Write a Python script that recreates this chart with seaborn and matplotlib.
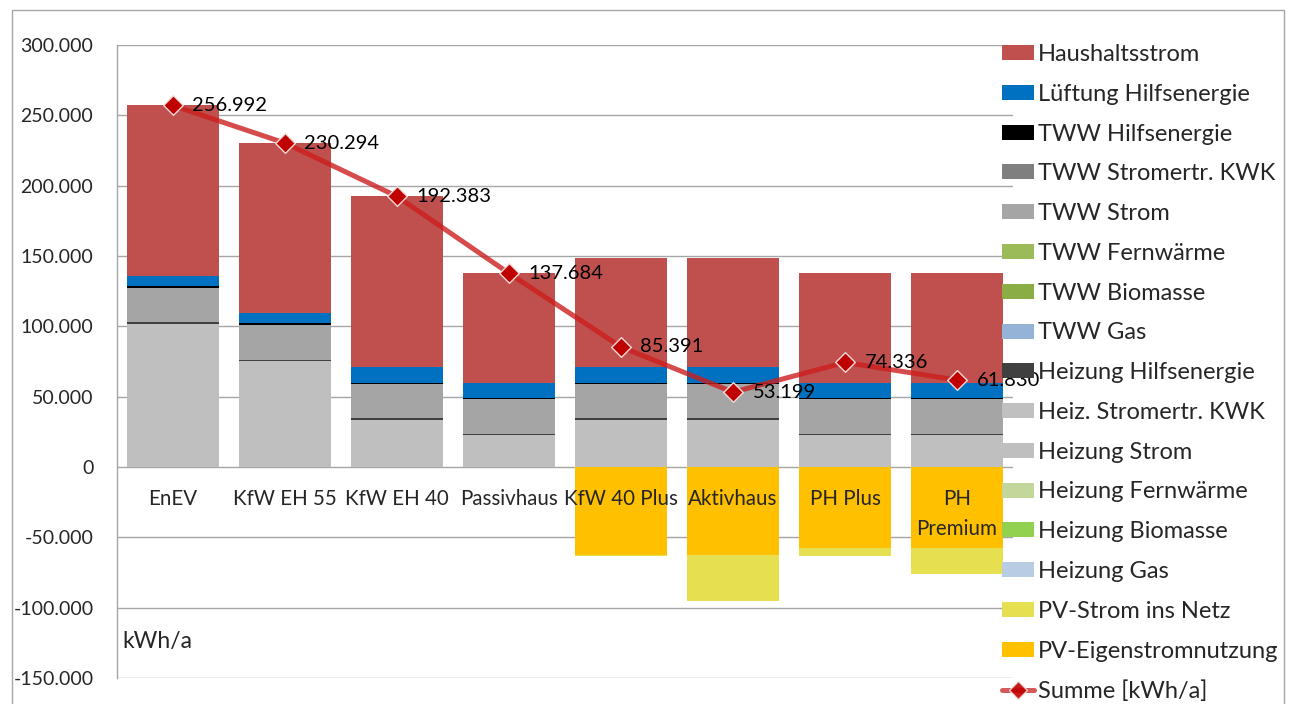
import numpy as np
import matplotlib
matplotlib.use("Agg")
import matplotlib.pyplot as plt
from matplotlib.patches import Patch, Rectangle
from matplotlib.lines import Line2D
from matplotlib.ticker import FuncFormatter, MultipleLocator
import seaborn as sns

# ---------------- data (kWh/a) ----------------
categories = ["EnEV", "KfW EH 55", "KfW EH 40", "Passivhaus", "KfW 40 Plus",
              "Aktivhaus", "PH Plus", "PH\nPremium"]

heizung_gas          = [0, 0, 0, 0, 0, 0, 0, 0]
heizung_biomasse     = [0, 0, 0, 0, 0, 0, 0, 0]
heizung_fernwaerme   = [0, 0, 0, 0, 0, 0, 0, 0]
heizung_strom        = [101900, 75100, 33400, 22500, 33400, 33400, 22500, 22500]
heiz_stromertr_kwk   = [0, 0, 0, 0, 0, 0, 0, 0]
heizung_hilfsenergie = [1200, 1000, 1200, 800, 1200, 1200, 800, 800]
tww_gas              = [0, 0, 0, 0, 0, 0, 0, 0]
tww_biomasse         = [0, 0, 0, 0, 0, 0, 0, 0]
tww_fernwaerme       = [0, 0, 0, 0, 0, 0, 0, 0]
tww_strom            = [24400, 24800, 24400, 25000, 24400, 24400, 25000, 25000]
tww_stromertr_kwk    = [0, 0, 0, 0, 0, 0, 0, 0]
tww_hilfsenergie     = [1200, 1200, 900, 600, 900, 900, 600, 600]
lueftung_hilfsenergie = [7100, 7200, 11000, 11000, 11000, 11000, 11000, 11000]
haushaltsstrom       = [121200, 121000, 121500, 77800, 77700, 77700, 77800, 77800]
pv_eigenstrom        = [0, 0, 0, 0, -62500, -62600, -57300, -57300]
pv_netz              = [0, 0, 0, 0, -700, -32800, -6000, -18600]
summe                = [256992, 230294, 192383, 137684, 85391, 53199, 74336, 61830]

# bottom -> top stacking order
pos_series = [
    ("Heizung Gas", heizung_gas, "#B8CCE4"),
    ("Heizung Biomasse", heizung_biomasse, "#92D050"),
    ("Heizung Fernwärme", heizung_fernwaerme, "#C4D79B"),
    ("Heizung Strom", heizung_strom, "#BFBFBF"),
    ("Heiz. Stromertr. KWK", heiz_stromertr_kwk, "#C0C0C0"),
    ("Heizung Hilfsenergie", heizung_hilfsenergie, "#404040"),
    ("TWW Gas", tww_gas, "#95B3D7"),
    ("TWW Biomasse", tww_biomasse, "#8BAD46"),
    ("TWW Fernwärme", tww_fernwaerme, "#9BBB59"),
    ("TWW Strom", tww_strom, "#A5A5A5"),
    ("TWW Stromertr. KWK", tww_stromertr_kwk, "#7F7F7F"),
    ("TWW Hilfsenergie", tww_hilfsenergie, "#000000"),
    ("Lüftung Hilfsenergie", lueftung_hilfsenergie, "#0070C0"),
    ("Haushaltsstrom", haushaltsstrom, "#C0504D"),
]
neg_series = [
    ("PV-Eigenstromnutzung", pv_eigenstrom, "#FFC000"),
    ("PV-Strom ins Netz", pv_netz, "#E6E050"),
]

# ---------------- style ----------------
sns.set_theme(style="white")
FONT = ["Lato", "DejaVu Sans"]
plt.rcParams["font.family"] = FONT
FS = 14.5
LFS = 17

fig = plt.figure(figsize=(12.91, 7.04), dpi=100)
ax = fig.add_axes([117 / 1291, 1 - 678 / 704, (1013 - 117) / 1291, (678 - 45) / 704])

# chart-area border
fig.add_artist(Rectangle((12 / 1291, -0.05), (1284 - 12) / 1291, 1.05 - 10 / 704,
                         transform=fig.transFigure, fill=False,
                         edgecolor="#A6A6A6", lw=1.0, zorder=0))

BW = 0.83
# positive stacks: draw cumulative tops from top layer down
cum = np.zeros(len(categories))
tops = []
for label, vals, col in pos_series:
    cum = cum + np.asarray(vals, dtype=float)
    tops.append((label, cum.copy(), col))
for label, top, col in reversed(tops):
    sns.barplot(x=categories, y=top, order=categories, color=col, saturation=1,
                width=BW, errorbar=None, linewidth=0, ax=ax, zorder=2)

cum = np.zeros(len(categories))
ntops = []
for label, vals, col in neg_series:
    cum = cum + np.asarray(vals, dtype=float)
    ntops.append((label, cum.copy(), col))
for label, top, col in reversed(ntops):
    sns.barplot(x=categories, y=top, order=categories, color=col, saturation=1,
                width=BW, errorbar=None, linewidth=0, ax=ax, zorder=2)

# sum line
xpos = np.arange(len(categories))
sns.lineplot(x=xpos, y=summe, color="#CC1E1E", alpha=0.8, linewidth=3.6,
             ax=ax, zorder=4, legend=False)
sns.scatterplot(x=xpos, y=summe, marker="D", s=100, color="#C00000",
                edgecolor="#F2DCDB", linewidth=1.0, ax=ax, zorder=5, legend=False)


def de_fmt(v):
    return f"{v:,.0f}".replace(",", ".")


for xi, v in zip(xpos, summe):
    ax.annotate(de_fmt(v), (xi, v), xytext=(14, 0), textcoords="offset points",
                ha="left", va="center", fontsize=FS, color="black", zorder=6)

# axes
ax.set_xlim(-0.5, len(categories) - 0.5)
ax.set_ylim(-150000, 300000)
ax.yaxis.set_major_locator(MultipleLocator(50000))
ax.yaxis.set_major_formatter(FuncFormatter(lambda v, p: de_fmt(v)))
ax.set_xticks(xpos, labels=categories, linespacing=1.6)
ax.set_axisbelow(True)
ax.yaxis.grid(True, color="#A6A6A6", lw=1.0)
ax.xaxis.grid(False)
ax.xaxis.set_zorder(8)
for s in ["top", "right"]:
    ax.spines[s].set_visible(False)
ax.spines["left"].set_color("#A6A6A6")
ax.spines["left"].set_linewidth(1.0)
ax.spines["bottom"].set_position(("data", 0))
ax.spines["bottom"].set_visible(False)
ax.tick_params(axis="x", length=0, pad=16, labelsize=14.8)
ax.tick_params(axis="y", length=0, pad=17, labelsize=14)
ax.set_xlabel("")
ax.set_ylabel("")
ax.text(0.006, 0.058, "kWh/a", transform=ax.transAxes, ha="left", va="center",
        fontsize=16.5)

# legend (Excel order: top layer first)
handles = []
labels = []
for label, vals, col in reversed(pos_series):
    handles.append(Patch(facecolor=col, edgecolor="none"))
    labels.append(label)
for label, vals, col in reversed(neg_series):
    handles.append(Patch(facecolor=col, edgecolor="none"))
    labels.append(label)
handles.append(Line2D([0], [0], color="#D04848", alpha=0.9, lw=3.6, marker="D",
                      markersize=9, markerfacecolor="#C00000",
                      markeredgecolor="#F2DCDB"))
labels.append("Summe [kWh/a]")

leg = fig.legend(handles, labels, loc="upper left",
                 bbox_to_anchor=(1002 / 1291, 1 - 44 / 704),
                 frameon=False, fontsize=LFS, borderpad=0, borderaxespad=0,
                 handlelength=1.36, handleheight=0.6, handletextpad=0.17,
                 labelspacing=0.795)
leg.set_zorder(10)

fig.canvas.draw()
for t in ax.get_xticklabels():
    t.set_linespacing(1.6)

fig.savefig("out.png", dpi=100)
